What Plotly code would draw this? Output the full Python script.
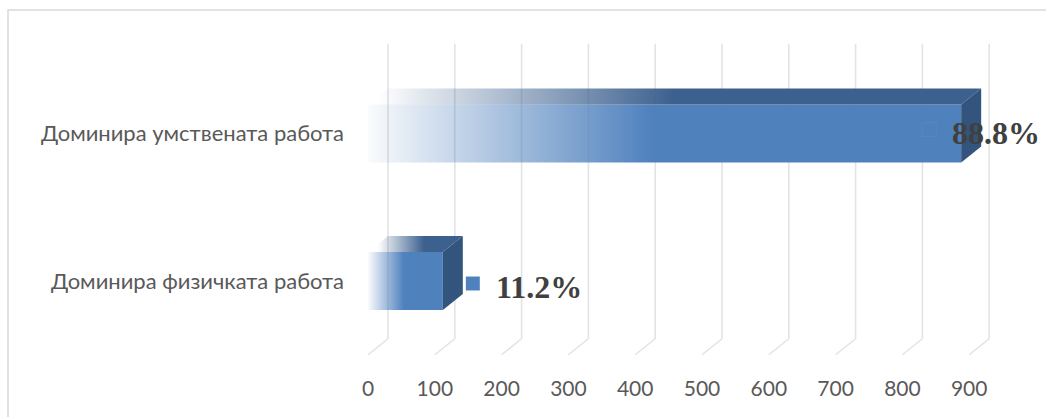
import plotly.graph_objects as go

# ---- data (top to bottom as in the chart) ----
categories = ["Доминира умствената работа", "Доминира физичката работа"]
values = [888, 112]
percent_labels = ["88.8%", "11.2%"]
x_ticks = [0, 100, 200, 300, 400, 500, 600, 700, 800, 900]

# ---- geometry / style ----
W, H = 1046, 417
PL, PR, PT, PB = 360, 1046, 10, 368          # plot area in px
X0_PX, PX_PER_UNIT = 368, 0.668               # x=0 position and scale
CAT0_PY, PX_PER_CAT = 281, 147.5              # y position of lowest category
x_range = [(PL - X0_PX) / PX_PER_UNIT, (PR - X0_PX) / PX_PER_UNIT]
y_range = [(CAT0_PY - PB) / PX_PER_CAT, (CAT0_PY - PT) / PX_PER_CAT]
DX = 20 / PX_PER_UNIT       # depth offset (x)
DY = 16 / PX_PER_CAT        # depth offset (y)
HALF = 29 / PX_PER_CAT      # half bar thickness
FRONT = (79, 129, 189)
TOP = (61, 97, 143)
SIDE = (51, 84, 125)
GRID = "#E3E3E3"
label_group_shift_px = [-39, 23]
label_yshift_px = [4, -2.5]
LABEL_FONT = "Lato, Carlito, Calibri, sans-serif"


def rgba(c, a):
    return f"rgba({c[0]},{c[1]},{c[2]},{a})"


fig = go.Figure()

# back-wall gridlines + floor diagonals
gx, gy = [], []
n = len(categories)
for t in x_ticks:
    gx += [t + DX, t + DX, None, t + DX, t, None]
    gy += [n - 0.5 + DY, -0.5 + DY, None, -0.5 + DY, -0.5, None]
fig.add_trace(go.Scatter(x=gx, y=gy, mode="lines", line=dict(color=GRID, width=1.6),
                         hoverinfo="skip", showlegend=False))

for i, (cat, v) in enumerate(zip(categories, values)):
    k = n - 1 - i
    grad_stop = v * 0.48
    # front face
    fig.add_trace(go.Scatter(
        x=[0, v, v, 0, 0], y=[k - HALF, k - HALF, k + HALF, k + HALF, k - HALF],
        mode="lines", line=dict(width=0), fill="toself",
        fillgradient=dict(type="horizontal", start=0, stop=grad_stop,
                          colorscale=[[0, rgba(FRONT, 0.03)], [1, rgba(FRONT, 1)]]),
        hoverinfo="skip", showlegend=False))
    # top face
    fig.add_trace(go.Scatter(
        x=[0, v, v + DX, DX, 0],
        y=[k + HALF, k + HALF, k + HALF + DY, k + HALF + DY, k + HALF],
        mode="lines", line=dict(width=0), fill="toself",
        fillgradient=dict(type="horizontal", start=DX * 0.5, stop=grad_stop + DX,
                          colorscale=[[0, rgba(TOP, 0.0)], [1, rgba(TOP, 1)]]),
        hoverinfo="skip", showlegend=False))
    # side face
    fig.add_trace(go.Scatter(
        x=[v, v + DX, v + DX, v, v],
        y=[k - HALF, k - HALF + DY, k + HALF + DY, k + HALF, k - HALF],
        mode="lines", line=dict(width=0), fill="toself", fillcolor=rgba(SIDE, 1),
        hoverinfo="skip", showlegend=False))

# data labels with legend keys
for i, (v, lab) in enumerate(zip(values, percent_labels)):
    k = n - 1 - i
    start_px = v * PX_PER_UNIT + label_group_shift_px[i]
    fig.add_trace(go.Scatter(
        x=[(start_px + 7) / PX_PER_UNIT], y=[k + label_yshift_px[i] / PX_PER_CAT],
        mode="markers", marker=dict(symbol="square", size=14, color=rgba(FRONT, 1),
                                    line=dict(width=1, color="rgba(255,255,255,0.05)")),
        cliponaxis=False, hoverinfo="skip", showlegend=False))
    fig.add_annotation(x=v, y=k, xref="x", yref="y", text=lab, showarrow=False,
                       xanchor="left", yanchor="middle",
                       xshift=label_group_shift_px[i] + 29,
                       yshift=label_yshift_px[i] - 3.5, borderpad=0,
                       font=dict(family="Liberation Serif, Times New Roman, serif",
                                 size=32, color="#404040", weight="bold"))

# outer frame
fig.add_shape(type="rect", xref="paper", yref="paper",
              x0=(8 - PL) / (PR - PL), x1=(W + 10 - PL) / (PR - PL),
              y0=(PB - (H + 10)) / (PB - PT), y1=(PB - 10) / (PB - PT),
              line=dict(color="#D9D9D9", width=1.5), layer="below")

fig.update_layout(
    width=W, height=H,
    margin=dict(l=PL, r=W - PR, t=PT, b=H - PB),
    paper_bgcolor="white", plot_bgcolor="white",
    xaxis=dict(range=x_range, tickvals=x_ticks, ticktext=[str(t) for t in x_ticks],
               showgrid=False, zeroline=False, showline=False, ticks="",
               ticklabelstandoff=6,
               tickfont=dict(family=LABEL_FONT, size=21, color="#595959")),
    yaxis=dict(range=y_range, tickvals=[n - 1 - i for i in range(n)], ticktext=categories,
               showgrid=False, zeroline=False, showline=False, ticks="",
               ticklabelstandoff=15,
               tickfont=dict(family=LABEL_FONT, size=22, color="#595959")),
    showlegend=False,
)

fig.write_html("out.html")
